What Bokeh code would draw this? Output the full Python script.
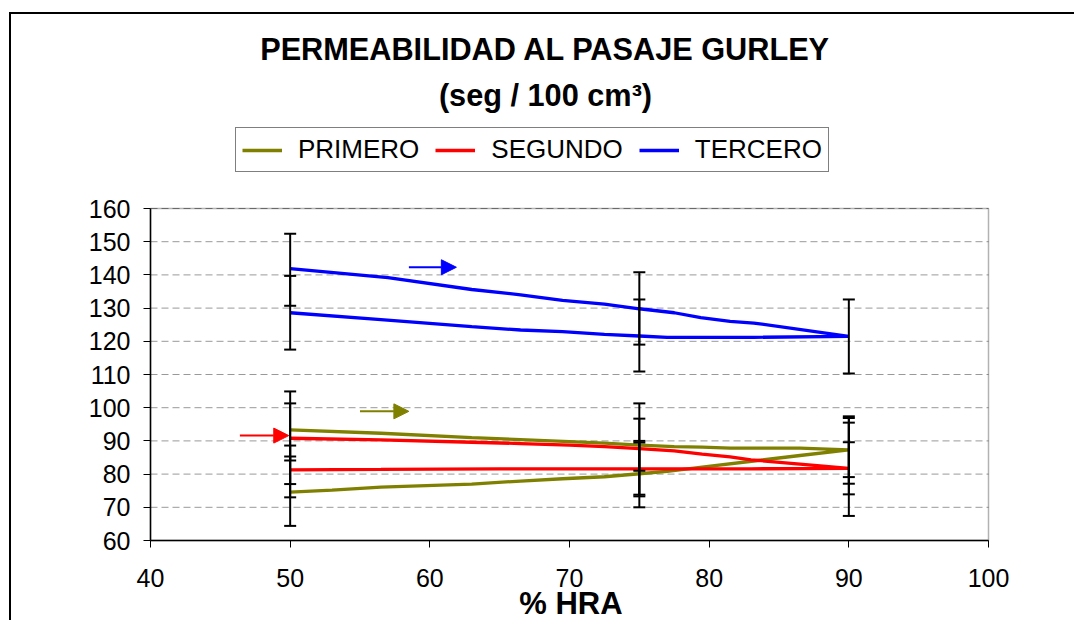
from bokeh.plotting import figure
from bokeh.models import (Legend, LegendItem, Whisker, TeeHead, Arrow, NormalHead,
                          Label, BoxAnnotation, ColumnDataSource, Range1d, LinearAxis,
                          FixedTicker, Grid)
from bokeh.embed import file_html
from bokeh.resources import INLINE

FONT = "Liberation Sans"

# ---------------- data ----------------
TITLE_1 = "PERMEABILIDAD AL PASAJE GURLEY"
TITLE_2 = "(seg / 100 cm\u00b3)"
X_LABEL = "% HRA"

X_TICKS = [40, 50, 60, 70, 80, 90, 100]
Y_TICKS = [60, 70, 80, 90, 100, 110, 120, 130, 140, 150, 160]

SERIES = ["PRIMERO", "SEGUNDO", "TERCERO"]
COLORS = ["#808000", "#FF0000", "#0000FF"]

# upper branch 50 -> 90, then lower branch 90 -> 50
PRIMERO_HRA = [50, 56.5, 63, 66.5, 70, 72.5, 75, 77.5, 79.5, 81.5, 86.5, 90,
               86.5, 83.5, 79.5, 77, 75, 72.5, 69.5, 66.5, 63, 56.5, 53, 50]
PRIMERO_VAL = [93.3, 92.3, 91.0, 90.4, 89.8, 89.3, 88.7, 88.3, 88.1, 87.8, 87.8, 87.3,
               85.6, 84.1, 82.1, 80.8, 80.1, 79.2, 78.6, 77.9, 77.0, 76.1, 75.2, 74.6]

SEGUNDO_HRA = [50, 56.5, 63, 66.5, 70, 72.5, 75, 77.5, 79.5, 81.5, 83, 86.5, 90,
               83, 75, 65, 56.5, 50]
SEGUNDO_VAL = [90.8, 90.3, 89.6, 89.2, 88.7, 88.3, 87.7, 87.0, 86.0, 85.2, 84.3, 83.0, 81.7,
               81.6, 81.6, 81.6, 81.4, 81.3]

TERCERO_HRA = [50, 57, 63, 66.5, 69.5, 72.5, 75, 77.5, 79.4, 81.5, 83.2, 90,
               83.2, 77, 75, 72.5, 69.5, 66.5, 63, 56.5, 50]
TERCERO_VAL = [141.9, 139.2, 135.6, 134.0, 132.3, 131.2, 129.8, 128.6, 127.1, 126.0, 125.5, 121.5,
               121.2, 121.2, 121.6, 122.1, 122.9, 123.4, 124.4, 126.5, 128.6]

# error bars (low / high ends)
ERR_HRA = [50, 50, 75, 75, 90,
           50, 50, 50, 50, 75, 75, 75, 75, 90, 90, 90, 90]
ERR_LOW = [130.7, 117.5, 119.0, 110.9, 110.3,
           84.1, 77.0, 73.0, 64.4, 73.3, 81.0, 73.8, 70.0, 77.1, 79.1, 67.4, 73.9]
ERR_HIGH = [152.4, 139.7, 140.8, 132.6, 132.6,
            104.9, 101.3, 88.6, 85.3, 101.3, 96.7, 90.0, 89.5, 97.4, 96.9, 95.5, 89.6]

# direction arrows (per series)
ARROW_X0 = [55.0, 46.4, 58.5]
ARROW_X1 = [58.5, 49.9, 61.9]
ARROW_Y = [98.9, 91.6, 142.3]

X_MIN, X_MAX = X_TICKS[0], X_TICKS[-1]
Y_MIN, Y_MAX = Y_TICKS[0], Y_TICKS[-1]

# ---------------- figure ----------------
W, H = 1074, 620
PX_X = 838 / (X_MAX - X_MIN)      # pixels per x unit
PX_Y = 332 / (Y_MAX - Y_MIN)      # pixels per y unit
# the frame covers the whole canvas; axes are placed at fixed data locations
p = figure(width=W, height=H, output_backend="svg", toolbar_location=None,
           x_axis_location=None, y_axis_location=None,
           x_range=Range1d(X_MIN - 150 / PX_X, X_MIN + (W - 150) / PX_X),
           y_range=Range1d(Y_MIN - (H - 540) / PX_Y, Y_MIN + 540 / PX_Y),
           min_border_left=0, min_border_right=0, min_border_top=0, min_border_bottom=0)
p.background_fill_alpha = 0
p.border_fill_alpha = 0
p.outline_line_color = None
p.styles = {
    "background": "linear-gradient(#000, #000) 9px 12px / 2px 100% no-repeat, "
                  "linear-gradient(#000, #000) 9px 12px / 100% 2px no-repeat, #ffffff"
}
# remove default grids (grid lines are drawn over the plot area only, below)
for g in list(p.center):
    if isinstance(g, Grid):
        g.visible = False

xax = LinearAxis(fixed_location=Y_MIN, ticker=FixedTicker(ticks=X_TICKS), bounds=(X_MIN, X_MAX))
yax = LinearAxis(fixed_location=X_MIN, ticker=FixedTicker(ticks=Y_TICKS), bounds=(Y_MIN, Y_MAX))
p.add_layout(xax, "below")
p.add_layout(yax, "left")
for ax in (xax, yax):
    ax.axis_line_color = "black"
    ax.axis_line_width = 1.5
    ax.major_tick_line_color = "black"
    ax.major_tick_line_width = 1
    ax.major_tick_in = 0
    ax.major_tick_out = 7
    ax.minor_tick_line_color = None
    ax.minor_tick_out = 0
    ax.major_label_text_font = FONT
    ax.major_label_text_font_size = "25px"
    ax.major_label_text_color = "black"
yax.major_label_standoff = 13
xax.major_label_standoff = 21

# dashed horizontal grid lines across the plot area only
n = len(Y_TICKS)
p.segment(x0=[X_MIN] * n, y0=Y_TICKS, x1=[X_MAX] * n, y1=Y_TICKS,
          line_color="#999999", line_dash="7 4", line_width=1)

# plot-area box
p.add_layout(BoxAnnotation(left=X_MIN, right=X_MAX, bottom=Y_MIN, top=Y_MAX,
                           fill_alpha=0, line_color="black", line_width=1.5))

xs = [PRIMERO_HRA, SEGUNDO_HRA, TERCERO_HRA]
ys = [PRIMERO_VAL, SEGUNDO_VAL, TERCERO_VAL]
renderers = []
for name, c, x, y in zip(SERIES, COLORS, xs, ys):
    r = p.line(x, y, line_color=c, line_width=3.3)
    renderers.append(r)

err_src = ColumnDataSource(dict(base=ERR_HRA, lower=ERR_LOW, upper=ERR_HIGH))
wh = Whisker(source=err_src, base="base", lower="lower", upper="upper", dimension="height",
             line_color="black", line_width=2, level="overlay",
             upper_head=TeeHead(size=12, line_width=2, line_color="black"),
             lower_head=TeeHead(size=12, line_width=2, line_color="black"))
p.add_layout(wh)

for c, x0, x1, y in zip(COLORS, ARROW_X0, ARROW_X1, ARROW_Y):
    p.add_layout(Arrow(end=NormalHead(size=15, fill_color=c, line_color=c, line_width=1),
                       x_start=x0, y_start=y, x_end=x1, y_end=y,
                       line_color=c, line_width=2))

legend = Legend(items=[LegendItem(label=s, renderers=[r]) for s, r in zip(SERIES, renderers)],
                orientation="horizontal", location=(235, H - 172),
                label_text_font=FONT, label_text_font_size="26px", label_text_color="black",
                glyph_width=40, glyph_height=20, label_standoff=16, spacing=16,
                padding=6, margin=0, border_line_color="black", border_line_width=1,
                background_fill_color="white")
p.add_layout(legend)

p.add_layout(Label(x=68.28, y=207.9, text=TITLE_1, text_font=FONT, text_font_style="bold",
                   text_font_size="30.7px", text_color="black",
                   text_align="center", text_baseline="middle"))
p.add_layout(Label(x=68.28, y=194.0, text=TITLE_2, text_font=FONT, text_font_style="bold",
                   text_font_size="30.7px", text_color="black",
                   text_align="center", text_baseline="middle"))
p.add_layout(Label(x=70.1, y=40.9, text=X_LABEL, text_font=FONT, text_font_style="bold",
                   text_font_size="31px", text_color="black",
                   text_align="center", text_baseline="middle"))

open("out.html", "w").write(file_html(p, INLINE))
